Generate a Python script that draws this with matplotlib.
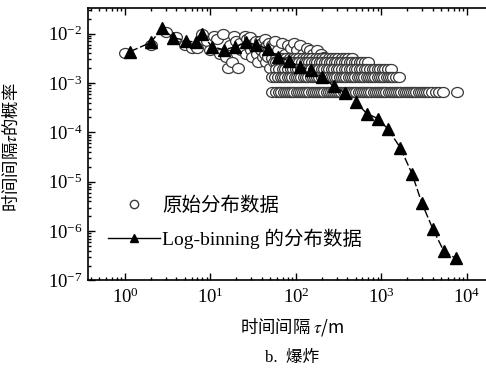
import matplotlib
matplotlib.use("Agg")
import matplotlib.pyplot as plt
import matplotlib.transforms as mtrans
from matplotlib.path import Path
from matplotlib.lines import Line2D

#fonts: Times-like latin, CJK fallback
plt.rcParams['font.family'] = ['Liberation Serif', 'Noto Sans CJK SC']
plt.rcParams['mathtext.fontset'] = 'stix'
plt.rcParams['axes.unicode_minus'] = True

#log-binning data (triangles)
tau_bin = [1.14, 2.0, 2.7, 3.65, 5.2, 6.8, 7.9, 10.4, 14.4, 19.4, 26, 34, 47, 62, 83,
           112, 150, 200, 277, 372, 500, 675, 910, 1200, 1660, 2280, 2970, 4000, 5380, 7400]
p_bin = [4.3e-3, 6.6e-3, 1.27e-2, 8.3e-3, 7.2e-3, 6.6e-3, 1.0e-2, 5.4e-3, 4.7e-3, 5.4e-3,
         6.6e-3, 6.0e-3, 4.9e-3, 3.4e-3, 2.8e-3, 2.1e-3, 1.85e-3, 1.3e-3, 8.7e-4, 6.3e-4,
         4.1e-4, 2.4e-4, 1.9e-4, 1.15e-4, 4.9e-5, 1.45e-5, 3.7e-6, 1.1e-6, 3.9e-7, 2.8e-7]

#raw data, small intervals (scattered cloud)
tau_cloud = [1, 2, 3, 4, 5, 6, 7, 8, 9, 10, 11, 12, 13, 14, 15, 16, 17, 18, 19, 20,
             21, 22, 23, 24, 25, 26, 27, 28, 29, 30, 31, 32, 33, 34, 35, 36, 37, 38, 39, 40,
             41, 42, 43, 44, 45, 46, 47, 48, 49, 50, 53, 57, 62, 68, 74, 80, 88, 95, 104, 112,
             122, 133, 145, 160, 176, 195, 215]
p_cloud = [4.0e-3, 5.9e-3, 1.1e-2, 8.5e-3, 5.9e-3, 5.2e-3, 5.2e-3, 9.8e-3, 7.2e-3, 4.6e-3,
           9.1e-3, 7.8e-3, 3.9e-3, 9.8e-3, 3.3e-3, 2.0e-3, 5.9e-3, 2.6e-3, 9.1e-3, 7.2e-3,
           2.0e-3, 6.5e-3, 4.6e-3, 5.2e-3, 9.1e-3, 3.9e-3, 7.8e-3, 5.9e-3, 8.5e-3, 4.6e-3,
           3.3e-3, 6.5e-3, 5.2e-3, 7.2e-3, 3.9e-3, 2.6e-3, 5.9e-3, 7.2e-3, 4.6e-3, 6.5e-3,
           3.3e-3, 5.2e-3, 7.8e-3, 3.9e-3, 2.6e-3, 5.9e-3, 3.3e-3, 6.5e-3, 4.6e-3, 2.0e-3,
           5.9e-3, 7.2e-3, 4.6e-3, 6.5e-3, 3.9e-3, 5.9e-3, 5.2e-3, 6.5e-3, 4.6e-3, 5.9e-3,
           3.9e-3, 5.2e-3, 4.6e-3, 3.9e-3, 4.6e-3, 3.9e-3, 3.3e-3]

#raw data, quantised rows at larger intervals
p_row1 = 6.5e-4
tau_row1 = [52, 58, 63, 67, 72, 76, 81, 86, 91, 96, 102, 108, 114, 121, 128, 136, 144, 152,
            161, 171, 181, 192, 203, 215, 228, 241, 256, 271, 287, 304, 322, 341, 361, 383,
            405, 429, 455, 482, 510, 541, 573, 607, 643, 681, 722, 765, 810, 858, 909, 963,
            1020, 1081, 1145, 1213, 1285, 1362, 1443, 1528, 1619, 1716, 1818, 1926, 2040,
            2162, 2290, 2427, 2571, 2724, 2886, 3058, 3240, 3433, 3640, 3900, 4300, 4700,
            5200, 7600]
p_row2 = 1.3e-3
tau_row2 = [53, 57, 62, 66, 71, 75, 80, 85, 91, 97, 103, 109, 116, 123, 131, 139, 148, 157,
            167, 177, 188, 200, 212, 225, 239, 254, 270, 287, 305, 324, 344, 365, 388, 412,
            438, 465, 494, 525, 558, 593, 630, 669, 711, 755, 802, 852, 905, 962, 1022, 1086,
            1153, 1225, 1302, 1383, 1470, 1600]
p_row3 = 1.95e-3
tau_row3 = [58, 64, 70, 75, 81, 87, 93, 100, 107, 115, 123, 132, 141, 151, 162, 174, 186,
            199, 213, 228, 245, 262, 281, 301, 322, 345, 370, 396, 424, 454, 487, 521, 558,
            598, 640, 686, 735, 787, 843, 903, 967, 1036, 1110, 1190, 1300]
p_row4 = 2.6e-3
tau_row4 = [55, 59, 64, 69, 73, 78, 84, 90, 96, 103, 110, 118, 126, 135, 144, 154, 165, 177,
            189, 202, 216, 231, 247, 265, 283, 303, 324, 347, 371, 397, 425, 455, 487, 521,
            560, 600, 650, 700]
p_row5 = 3.25e-3
tau_row5 = [52, 58, 65, 71, 77, 85, 93, 101, 110, 120, 131, 143, 156, 170, 186, 203, 221,
            241, 263, 287, 313, 342, 373, 410, 450]

#labels
xlabel = '时间间隔 $\\tau$/m'
ylabel = '时间间隔$\\tau$的概率'
caption = 'b.  爆炸'
legend_labels = ['原始分布数据', 'Log-binning 的分布数据']

#figure 486x370, right spine pushed just past the edge
fig = plt.figure(figsize=(4.86, 3.70), dpi=100)
ax = fig.add_axes([0.1811, 0.2419, 0.827, 0.7378])

#slightly flattened open circle marker
ell = Path.unit_circle().transformed(mtrans.Affine2D().scale(1.0, 0.85))
circ_kw = dict(ls='none', marker=ell, ms=8.5, mfc='white', mec='#3a3a3a', mew=0.9, zorder=2)

ax.plot(tau_cloud, p_cloud, **circ_kw)
ax.plot(tau_row5, [p_row5] * len(tau_row5), **circ_kw)
ax.plot(tau_row4, [p_row4] * len(tau_row4), **circ_kw)
ax.plot(tau_row3, [p_row3] * len(tau_row3), **circ_kw)
ax.plot(tau_row2, [p_row2] * len(tau_row2), **circ_kw)
ax.plot(tau_row1, [p_row1] * len(tau_row1), **circ_kw)

ax.plot(tau_bin, p_bin, color='black', lw=1.0, ls=(0, (6, 2)), marker='^', ms=8,
        mfc='black', mec='black', zorder=3)

ax.set_xscale('log')
ax.set_yscale('log')
ax.set_xlim(0.369, 18600)
ax.set_ylim(1e-7, 3.37e-2)

ax.tick_params(which='both', direction='in', top=True, right=False, labelsize=13.5, width=1)
ax.tick_params(which='major', length=5)
ax.tick_params(which='minor', length=2.5)
ax.tick_params(axis='x', pad=5)
ax.tick_params(axis='y', pad=4)
for s in ax.spines.values():
    s.set_linewidth(1.2)

#mathtext labels: CJK font first so the plain part is not boxes
ax.set_xlabel(xlabel, fontsize=12.5, family='Noto Sans CJK SC')
ax.set_ylabel(ylabel, fontsize=12.5, family='Noto Sans CJK SC')
ax.xaxis.set_label_coords(0.507, -0.13)
ax.yaxis.set_label_coords(-0.167, 0.49)

#legend with small markers
h1 = Line2D([], [], ls='none', marker='o', ms=6, mfc='white', mec='#3a3a3a', mew=1.0)
h2 = Line2D([], [], color='black', lw=1.0, marker='^', ms=6)
ax.legend([h1, h2], legend_labels, loc='upper left', bbox_to_anchor=(0.05, 0.308),
          frameon=False, fontsize=14, handlelength=2.67, handletextpad=0.1,
          labelspacing=0.7, borderpad=0, borderaxespad=0)

fig.text(292 / 486, 1 - 358 / 370, caption, fontsize=12, ha='center', va='center')

fig.savefig('out.png', dpi=100)
